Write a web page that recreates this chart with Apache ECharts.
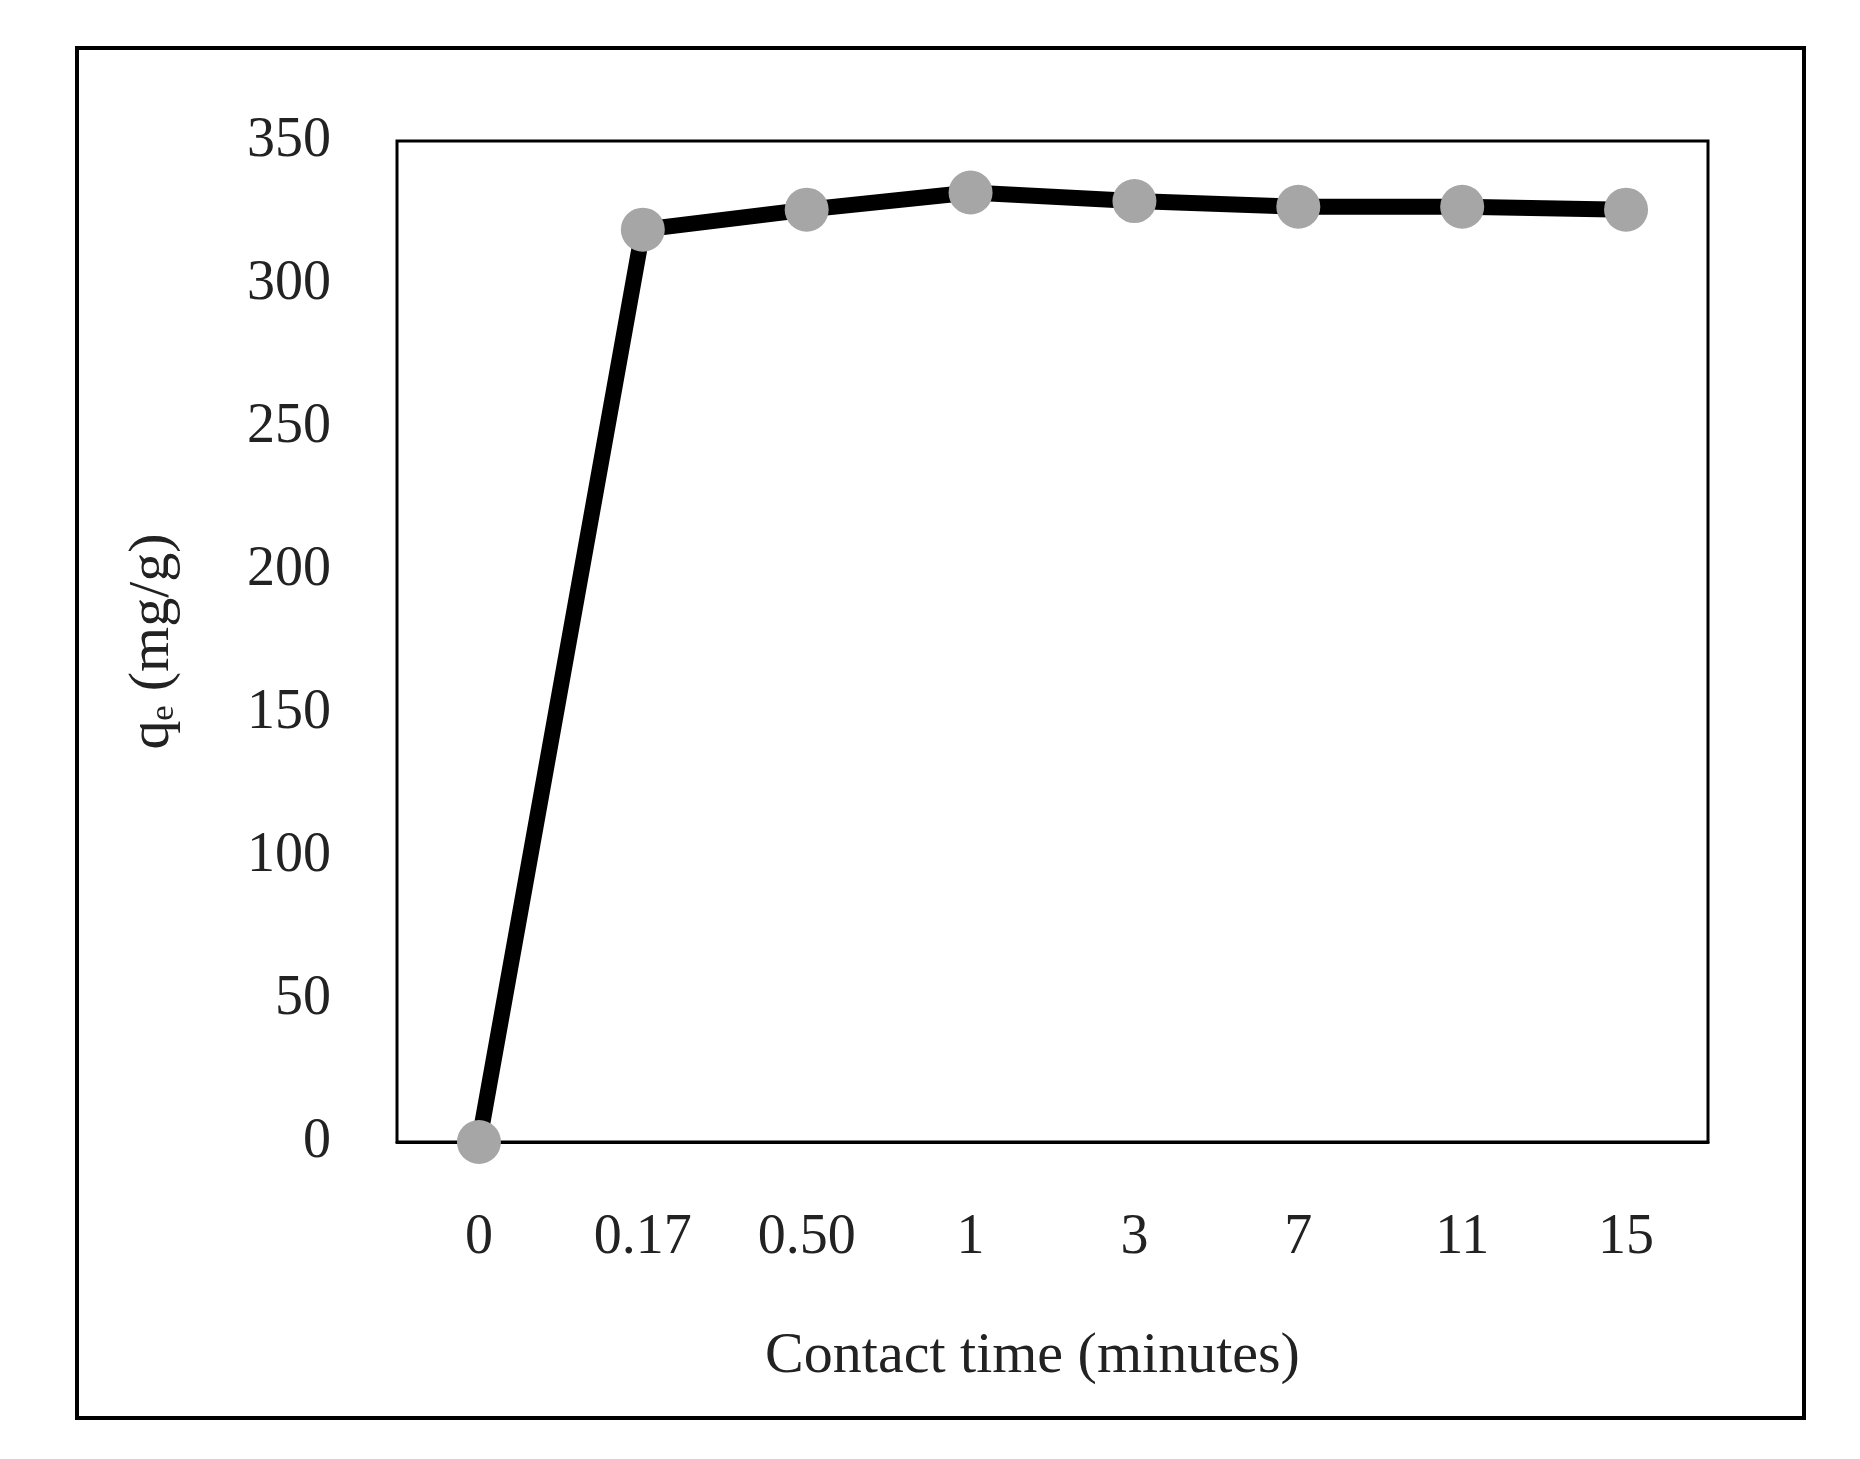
<!DOCTYPE html>
<html>
<head>
<meta charset="utf-8">
<script src="https://cdn.jsdelivr.net/npm/echarts@6/dist/echarts.min.js"></script>
<style>html,body{margin:0;padding:0;background:#fff;}#chart{width:1860px;height:1459px;}</style>
</head>
<body>
<div id="chart"></div>
<script>
// contact time categories and adsorption capacity
var times = ['0', '0.17', '0.50', '1', '3', '7', '11', '15'];
var qe = [0, 319, 326, 332, 329, 327, 327, 326];
var yTicks = { min: 0, max: 350, interval: 50 };

var myChart = echarts.init(document.getElementById('chart'));
var font = '"Liberation Serif", "DejaVu Serif", serif';
myChart.setOption({
    animation: false,
    graphic: [{
        type: 'rect',
        shape: { x: 77, y: 48, width: 1727, height: 1370 },
        style: { fill: 'none', stroke: '#000', lineWidth: 4 }
    }],
    grid: {
        left: 397, right: 152, top: 141, bottom: 317,
        show: true, borderColor: '#000', borderWidth: 3
    },
    xAxis: {
        type: 'category',
        data: times,
        name: 'Contact time (minutes)',
        nameLocation: 'middle',
        nameGap: 186,
        nameTextStyle: { fontFamily: font, fontSize: 58, color: '#222', padding: [0, 40, 0, 0] },
        axisLine: { lineStyle: { color: '#000', width: 3 } },
        axisTick: { show: false },
        axisLabel: { fontFamily: font, fontSize: 56, color: '#222', margin: 68 }
    },
    yAxis: {
        type: 'value',
        min: yTicks.min, max: yTicks.max, interval: yTicks.interval,
        name: 'qₑ (mg/g)',
        nameLocation: 'middle',
        nameGap: 215,
        nameTextStyle: { fontFamily: font, fontSize: 58, color: '#222' },
        axisLine: { show: false },
        axisTick: { show: false },
        splitLine: { show: false },
        axisLabel: { fontFamily: font, fontSize: 56, color: '#222', margin: 66 }
    },
    series: [{
        type: 'line',
        data: qe,
        symbol: 'circle',
        symbolSize: 44,
        lineStyle: { color: '#000', width: 16 },
        itemStyle: { color: '#a6a6a6' }
    }]
});
</script>
</body>
</html>
